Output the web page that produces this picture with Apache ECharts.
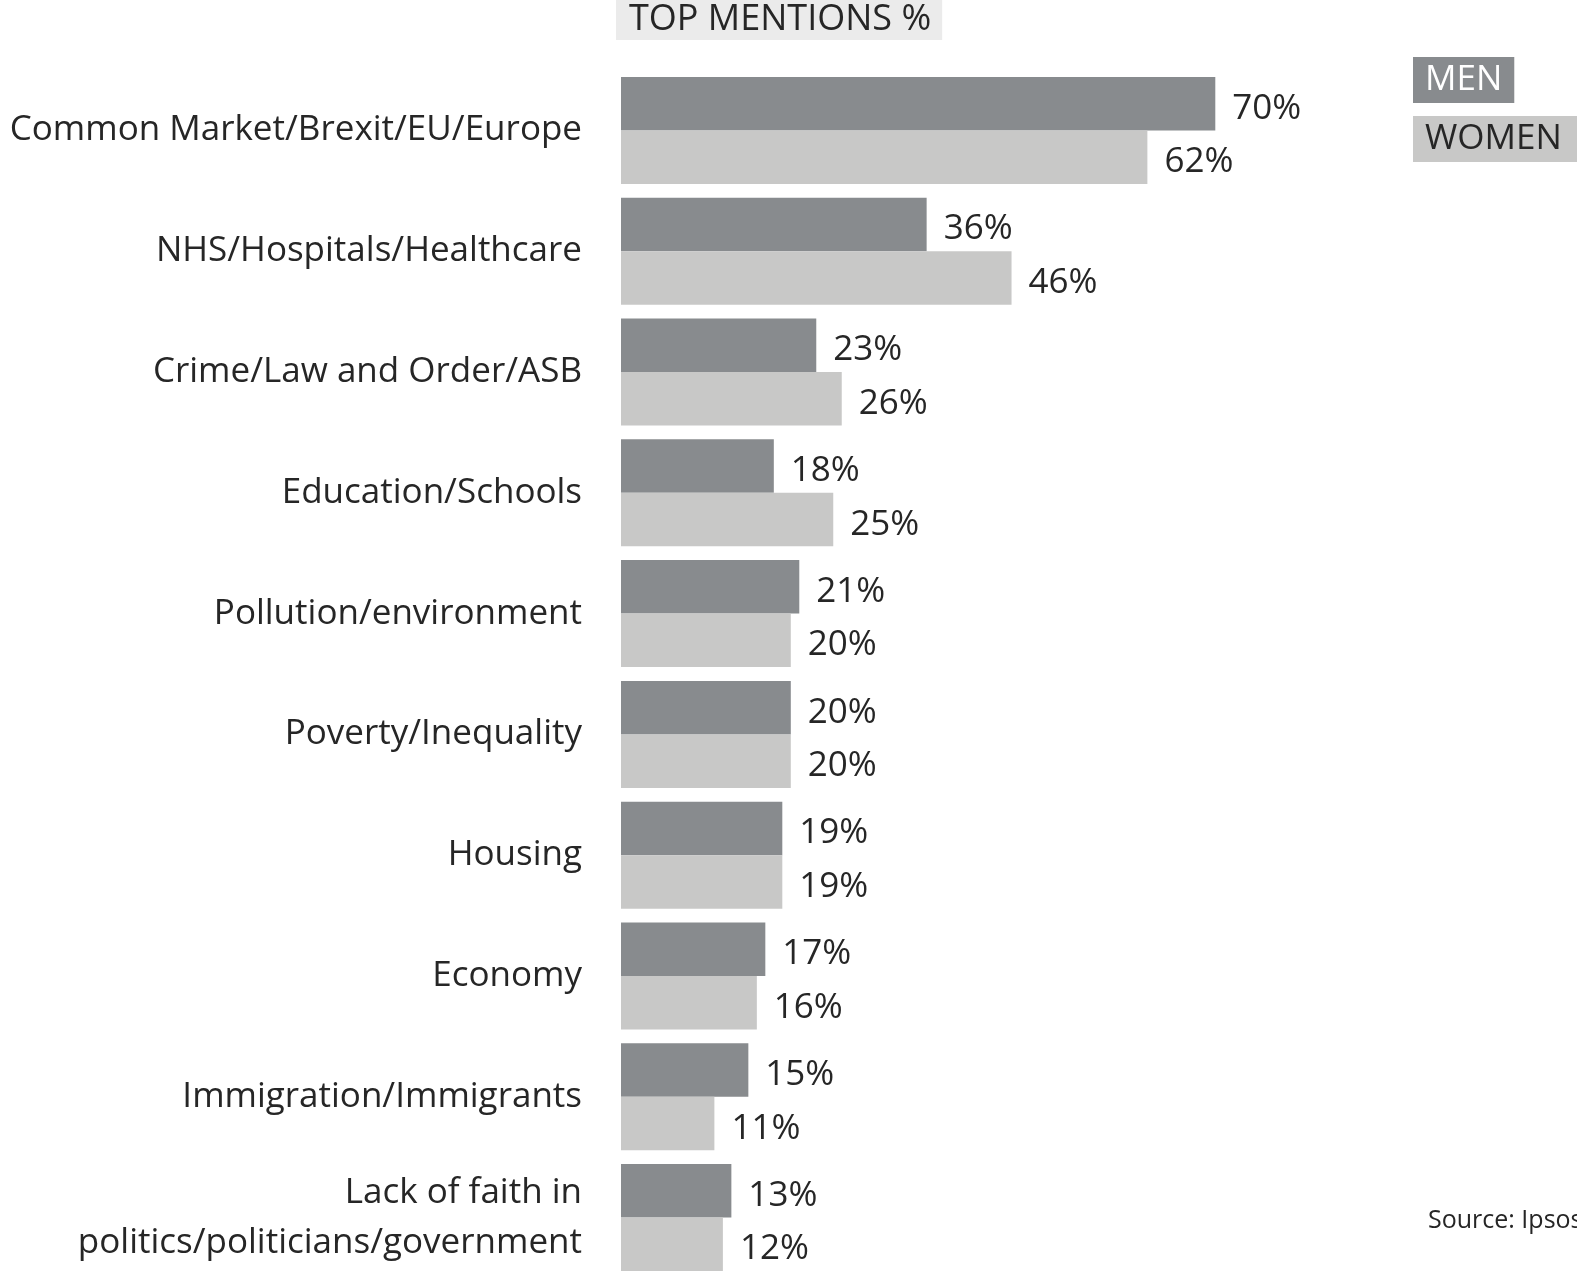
<!DOCTYPE html>
<html>
<head>
<meta charset="utf-8">
<script src="https://cdn.jsdelivr.net/npm/echarts@6/dist/echarts.min.js"></script>
<style>
  html, body { margin: 0; padding: 0; background: #fff; }
  #main { width: 1577px; height: 1271px; }
</style>
</head>
<body>
<div id="main"></div>
<script>
var categories = [
    'Common Market/Brexit/EU/Europe',
    'NHS/Hospitals/Healthcare',
    'Crime/Law and Order/ASB',
    'Education/Schools',
    'Pollution/environment',
    'Poverty/Inequality',
    'Housing',
    'Economy',
    'Immigration/Immigrants',
    'Lack of faith in\npolitics/politicians/government'
];
var men = [70, 36, 23, 18, 21, 20, 19, 17, 15, 13];
var women = [62, 46, 26, 25, 20, 20, 19, 16, 11, 12];

var font = '"Open Sans", "Noto Sans", sans-serif';
var menColor = '#888b8e';
var womenColor = '#c8c8c7';

var myChart = echarts.init(document.getElementById('main'));

// value labels to the right of each bar
var labelStyle = {
    show: true,
    position: 'right',
    distance: 17,
    offset: [0, 5],
    formatter: '{c}%',
    color: '#262626',
    fontSize: 35,
    fontFamily: font
};

var option = {
    animation: false,
    legend: {
        orient: 'vertical',
        left: 1408,
        top: 57,
        padding: 0,
        itemGap: 13,
        itemWidth: 0,
        itemHeight: 0,
        selectedMode: false,
        data: [
            { name: 'MEN', icon: 'none', textStyle: { color: '#fff', backgroundColor: menColor, lineHeight: 41, padding: [3, 12, 2, 12], fontSize: 35, fontFamily: font } },
            { name: 'WOMEN', icon: 'none', textStyle: { color: '#262626', backgroundColor: womenColor, lineHeight: 41, padding: [3, 20, 2, 12], fontSize: 35, fontFamily: font } }
        ]
    },
    graphic: [
        {
            type: 'text', left: 616, top: 0,
            style: {
                text: 'TOP MENTIONS %', fill: '#262626', font: '36px ' + font,
                lineHeight: 40, backgroundColor: '#ebebeb', padding: [0, 11, 0, 13]
            }
        },
        {
            type: 'text', left: 1428, top: 1208,
            style: { text: 'Source: Ipsos', fill: '#262626', font: '25px ' + font }
        }
    ],
    grid: { left: 621, top: 70, width: 849, height: 1208, containLabel: false, outerBoundsMode: 'none' },
    xAxis: {
        type: 'value', min: 0, max: 100, show: false
    },
    yAxis: {
        type: 'category', inverse: true, data: categories,
        axisLine: { show: false }, axisTick: { show: false },
        axisLabel: { margin: 39, color: '#262626', fontSize: 35, fontFamily: font, lineHeight: 50, align: 'right', padding: [6, 0, 0, 0] }
    },
    series: [
        { name: 'MEN', type: 'bar', data: men, barWidth: 53.5, barGap: '0%', itemStyle: { color: menColor }, label: labelStyle },
        { name: 'WOMEN', type: 'bar', data: women, barWidth: 53.5, barGap: '0%', itemStyle: { color: womenColor }, label: labelStyle }
    ]
};
myChart.setOption(option);
</script>
</body>
</html>
